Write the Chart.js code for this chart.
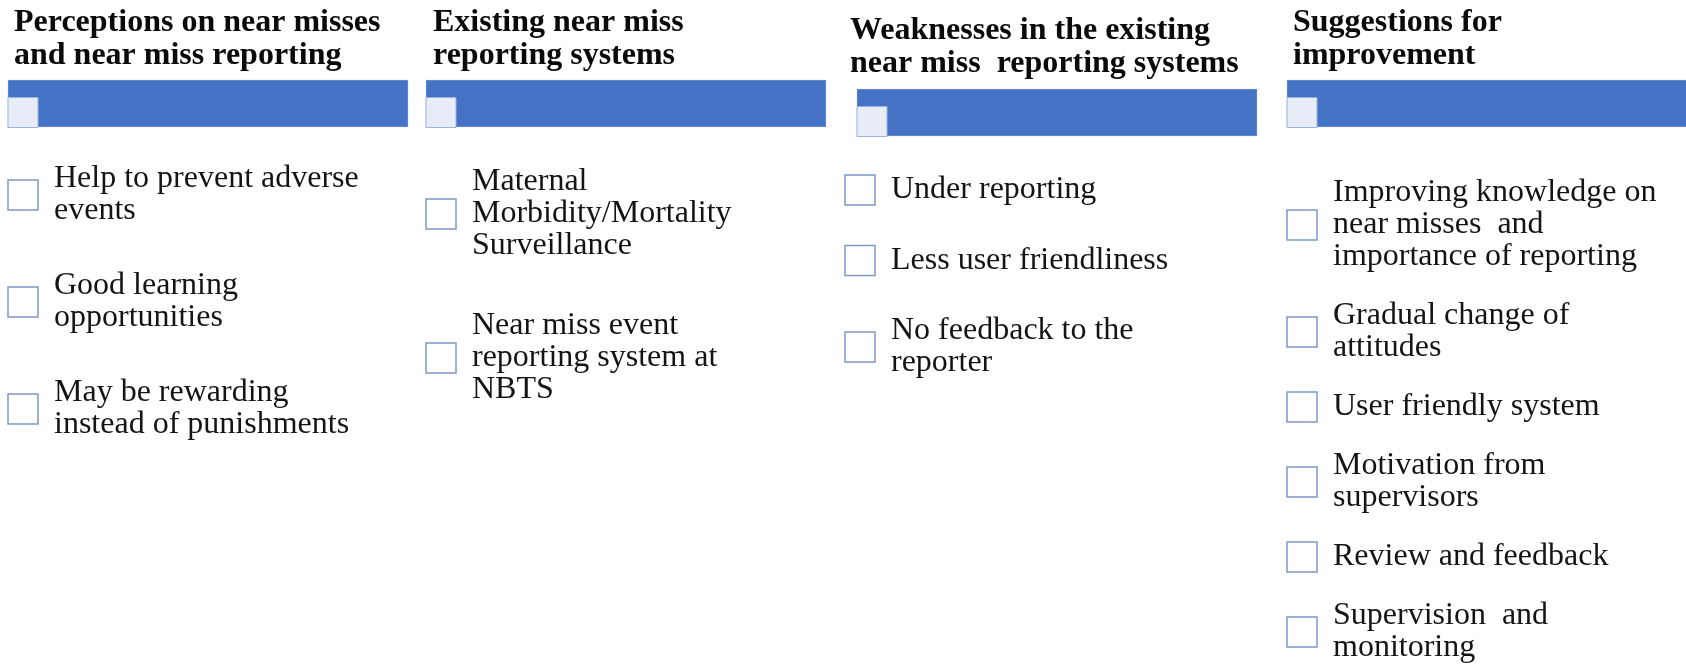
<!DOCTYPE html>
<html>
<head>
<meta charset="utf-8">
<script src="https://cdn.jsdelivr.net/npm/chart.js@4.4.1/dist/chart.umd.min.js"></script>
<style>
    html, body { margin: 0; padding: 0; background: #ffffff; }
    #board { display: block; }
</style>
</head>
<body>
<canvas id="board" width="1686" height="665"></canvas>
<script>
// near miss study - four themed lists, each a header bar + checkbox items

const headers = [
    ['Perceptions on near misses', 'and near miss reporting'],
    ['Existing near miss', 'reporting systems'],
    ['Weaknesses in the existing', 'near miss  reporting systems'],
    ['Suggestions for', 'improvement']
];

const perceptions = [
    ['Help to prevent adverse', 'events'],
    ['Good learning', 'opportunities'],
    ['May be rewarding', 'instead of punishments']
];

const existingSystems = [
    ['Maternal', 'Morbidity/Mortality', 'Surveillance'],
    ['Near miss event', 'reporting system at', 'NBTS']
];

const weaknesses = [
    ['Under reporting'],
    ['Less user friendliness'],
    ['No feedback to the', 'reporter']
];

const suggestions = [
    ['Improving knowledge on', 'near misses  and', 'importance of reporting'],
    ['Gradual change of', 'attitudes'],
    ['User friendly system'],
    ['Motivation from', 'supervisors'],
    ['Review and feedback'],
    ['Supervision  and', 'monitoring']
];

const columnItems = [perceptions, existingSystems, weaknesses, suggestions];

// layout (scale units == canvas px)
const COLS = [
    { barLeft: 8,    barTop: 80, headX: 14,   headBase: 31, boxLeft: 8,    listTop: 163, gap: 43 },
    { barLeft: 426,  barTop: 80, headX: 433,  headBase: 31, boxLeft: 426,  listTop: 166, gap: 48 },
    { barLeft: 857,  barTop: 89, headX: 850,  headBase: 39, boxLeft: 845,  listTop: 174, gap: 38.5 },
    { barLeft: 1287, barTop: 80, headX: 1293, headBase: 31, boxLeft: 1287, listTop: 177, gap: 27 }
];
const BAR_W = 400;
const BAR_H = 47;
const LINE_H = 32;
const HEAD_LINE_H = 32.5;
const BOX = 30;
const TEXT_GAP = 46;
const SERIF = '"Liberation Serif", "Times New Roman", serif';

function layoutColumn(c) {
    const L = COLS[c];
    let top = L.listTop;
    return columnItems[c].map(lines => {
        const h = lines.length * LINE_H;
        const item = { col: c, top: top, mid: top + h / 2, lines: lines };
        top += h + L.gap;
        return item;
    });
}

const placed = columnItems.map((_, c) => layoutColumn(c)).flat();

const barData = headers.map((_, i) => ({
    y: COLS[i].barTop + BAR_H / 2,
    x: [COLS[i].barLeft, COLS[i].barLeft + BAR_W]
}));

const cornerData = headers.map((_, i) => ({
    x: COLS[i].barLeft + 15,
    y: COLS[i].barTop + BAR_H - 14.5
}));

const boxData = placed.map(it => ({
    x: COLS[it.col].boxLeft + BOX / 2,
    y: it.mid
}));

const textPlugin = {
    id: 'listText',
    afterDatasetsDraw(chart) {
        const ctx = chart.ctx;
        const xs = chart.scales.x;
        const ys = chart.scales.y;
        ctx.save();
        ctx.textAlign = 'left';
        ctx.textBaseline = 'alphabetic';

        // headers
        ctx.fillStyle = '#0a0a0a';
        ctx.font = 'bold 32px ' + SERIF;
        headers.forEach((lines, i) => {
            lines.forEach((line, k) => {
                ctx.fillText(line,
                    xs.getPixelForValue(COLS[i].headX),
                    ys.getPixelForValue(COLS[i].headBase + k * HEAD_LINE_H));
            });
        });

        // items
        ctx.fillStyle = '#141414';
        ctx.font = '32px ' + SERIF;
        placed.forEach(it => {
            const tx = COLS[it.col].boxLeft + TEXT_GAP;
            it.lines.forEach((line, k) => {
                ctx.fillText(line,
                    xs.getPixelForValue(tx),
                    ys.getPixelForValue(it.top + 24 + k * LINE_H));
            });
        });
        ctx.restore();
    }
};

new Chart(document.getElementById('board'), {
    type: 'scatter',
    data: {
        datasets: [
            {
                type: 'bar',
                indexAxis: 'y',
                data: barData,
                backgroundColor: '#4472C4',
                borderColor: '#6C8FD0',
                borderWidth: 1,
                borderSkipped: false,
                barThickness: BAR_H,
                clip: false,
                order: 3
            },
            {
                data: cornerData,
                pointStyle: 'rect',
                pointRadius: BOX / 2 / Math.SQRT1_2,
                backgroundColor: '#E8ECF7',
                borderColor: '#9DB3DF',
                borderWidth: 1,
                clip: false,
                order: 2
            },
            {
                data: boxData,
                pointStyle: 'rect',
                pointRadius: BOX / 2 / Math.SQRT1_2,
                backgroundColor: '#ffffff',
                borderColor: '#7F98C6',
                borderWidth: 1.5,
                clip: false,
                order: 1
            }
        ]
    },
    options: {
        responsive: false,
        animation: false,
        events: [],
        layout: { padding: 0, autoPadding: false },
        plugins: {
            legend: { display: false },
            tooltip: { enabled: false }
        },
        scales: {
            x: { type: 'linear', min: 0, max: 1686, display: false, offset: false },
            y: { type: 'linear', min: 0, max: 665, reverse: true, display: false, offset: false }
        }
    },
    plugins: [textPlugin]
});
</script>
</body>
</html>
